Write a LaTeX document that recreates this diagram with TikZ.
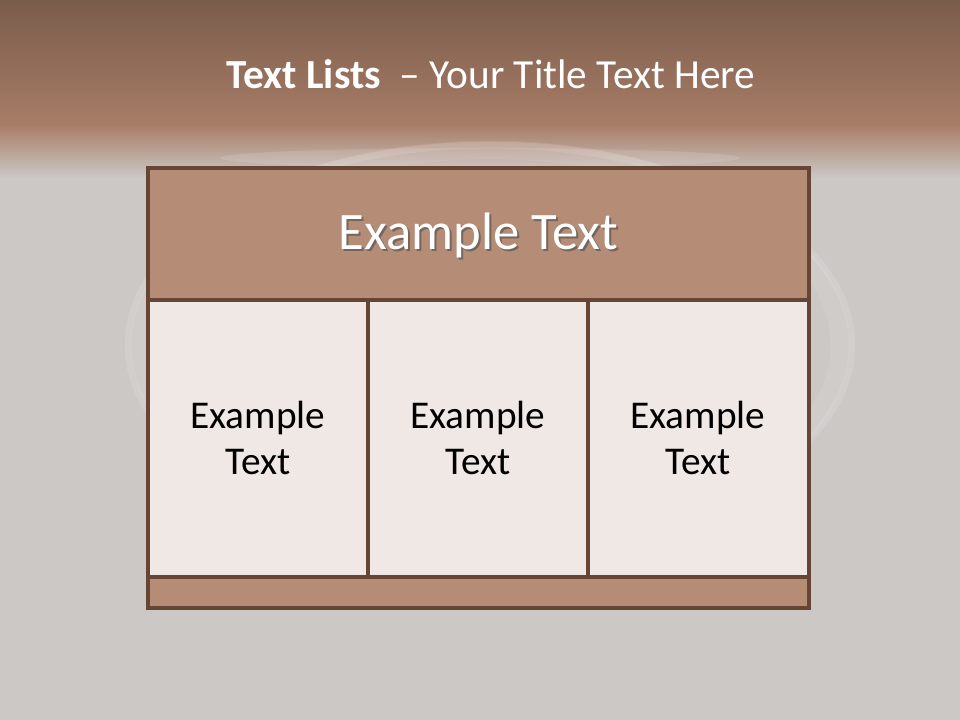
\documentclass[tikz,border=0pt]{standalone}
\usepackage{fontspec}
\setmainfont{Carlito}
\usetikzlibrary{shadows,fadings}
\definecolor{topdark}{HTML}{7A5C4B}
\definecolor{topmid}{HTML}{A87D67}
\definecolor{bggray}{HTML}{CBC8C5}
\definecolor{frame}{HTML}{664535}
\definecolor{headfill}{HTML}{B58C76}
\definecolor{cellfill}{HTML}{F0E8E5}
\tikzset{
  boxline/.style={draw=frame,line width=2.6pt},
  headbox/.style={boxline,fill=headfill},
  cellbox/.style={boxline,fill=cellfill},
  celltext/.style={font=\fontsize{29.5}{34}\selectfont,text=black,align=center},
  headtext/.style={font=\fontsize{39.5}{47}\selectfont,text=white},
}
\begin{document}
\begin{tikzpicture}[x=0.75pt,y=-0.75pt]
\useasboundingbox (0,0) rectangle (960,720);
% background
\fill[bggray] (0,0) rectangle (960,720);
\shade[top color=topdark,bottom color=topmid] (0,0) rectangle (960,126);
\shade[top color=topmid,bottom color=bggray] (0,125) rectangle (960,178);
% faint glow and ghost ring
\fill[white,opacity=0.12] (480,158) ellipse (260 and 10);
\draw[white,opacity=0.12,line width=5pt] (490,345) ellipse (362 and 200);
\draw[white,opacity=0.08,line width=14pt] (490,345) ellipse (350 and 195);
% title
\node[font=\fontsize{31}{37}\selectfont,text=white,anchor=base] (title) at (491,88.5)
  {\textbf{Text Lists}\ \ – Your Title Text Here};
% table
\path[headbox] (148,168) rectangle (809,300);
\path[cellbox] (148,300) rectangle (368,577);
\path[cellbox] (368,300) rectangle (588,577);
\path[cellbox] (588,300) rectangle (809,577);
\path[headbox] (148,577) rectangle (809,608);
\node[headtext,text=black!70,opacity=0.6] at (480.5,237) {Example Text};
\node[headtext] (htext) at (478.5,235) {Example Text};
\node[celltext] (c1) at (258,438) {Example\\Text};
\node[celltext] (c2) at (478,438) {Example\\Text};
\node[celltext] (c3) at (698,438) {Example\\Text};
\end{tikzpicture}
\end{document}
